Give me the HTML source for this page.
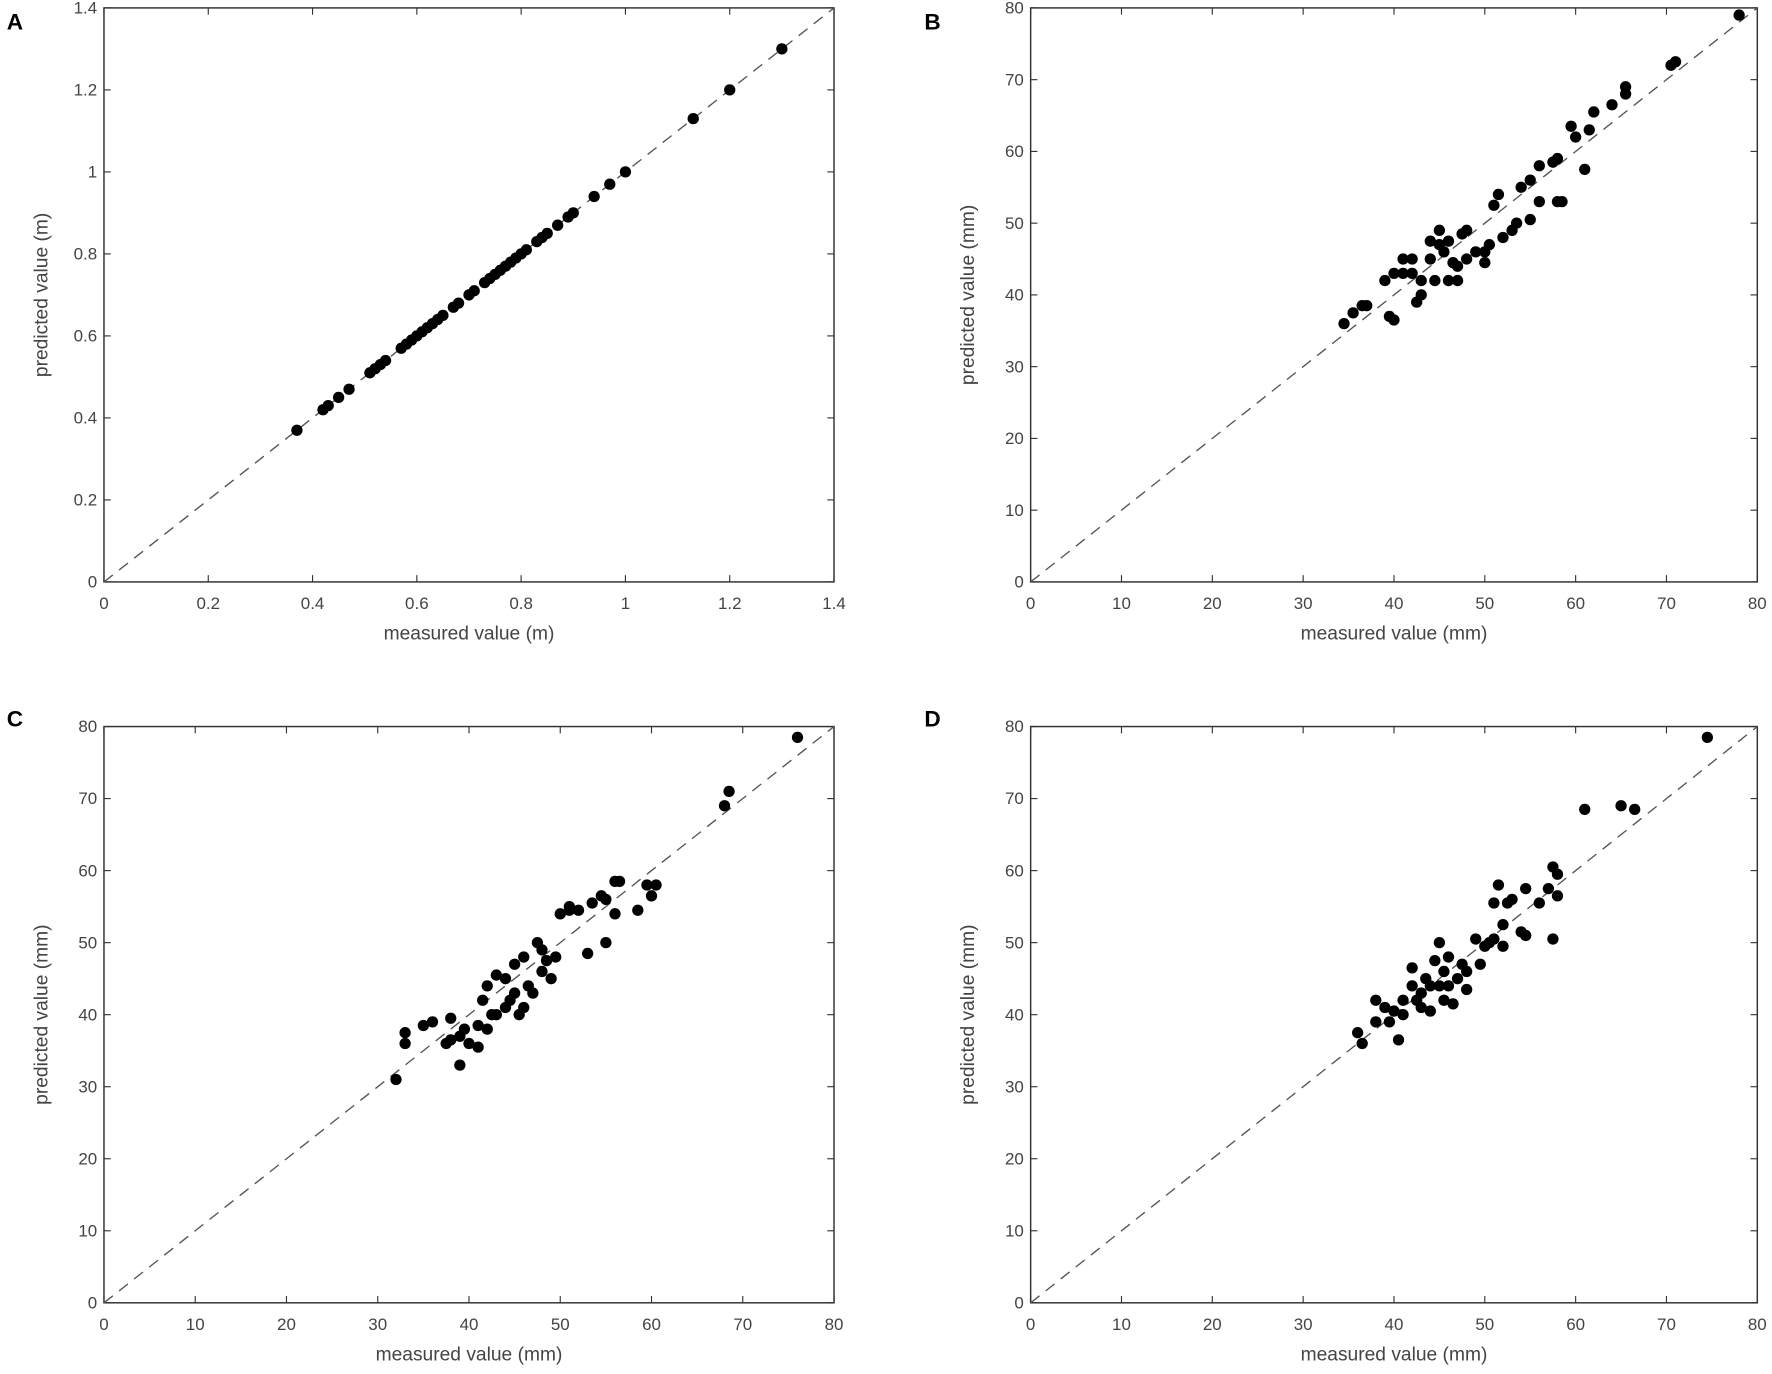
<!DOCTYPE html>
<html><head><meta charset="utf-8"><style>html,body{margin:0;padding:0;background:#fff}svg{display:block}</style></head>
<body>
<svg id="s" width="1772" height="1374" viewBox="0 0 1568 1216" preserveAspectRatio="none" xmlns="http://www.w3.org/2000/svg" font-family="Liberation Sans, sans-serif"></svg>
<script>
const s=document.getElementById('s');let h='';
function panel(L,x0,x1,yb,yt,max,step,dec,unit,letter,lx,ly,pts){
  const X=v=>x0+(x1-x0)*v/max, Y=v=>yb-(yb-yt)*v/max;
  h+=`<text x="${lx}" y="${ly}" font-size="20" font-weight="bold">${letter}</text>`;
  h+=`<rect x="${x0}" y="${yt}" width="${x1-x0}" height="${yb-yt}" fill="none" stroke="#333" stroke-width="1.3"/>`;
  const n=Math.round(max/step);
  for(let i=0;i<=n;i++){const v=i*step;const lab=dec?(+v.toFixed(1)).toString():v;
    const px=X(v),py=Y(v);
    h+=`<line x1="${px}" y1="${yb}" x2="${px}" y2="${yb-6}" stroke="#333"/><line x1="${px}" y1="${yt}" x2="${px}" y2="${yt+6}" stroke="#333"/>`;
    h+=`<line x1="${x0}" y1="${py}" x2="${x0+6}" y2="${py}" stroke="#333"/><line x1="${x1}" y1="${py}" x2="${x1-6}" y2="${py}" stroke="#333"/>`;
    h+=`<text x="${px}" y="${yb+24}" font-size="15" fill="#444" text-anchor="middle">${lab}</text>`;
    h+=`<text x="${x0-6}" y="${py+5}" font-size="15" fill="#444" text-anchor="end">${lab}</text>`;}
  h+=`<line x1="${x0}" y1="${yb}" x2="${x1}" y2="${yt}" stroke="#555" stroke-width="1.2" stroke-dasharray="10,7"/>`;
  h+=`<text x="${(x0+x1)/2}" y="${yb+51}" font-size="17" fill="#444" text-anchor="middle">measured value (${unit})</text>`;
  const cy=(yb+yt)/2;
  h+=`<text transform="translate(${x0-50},${cy}) rotate(-90)" font-size="17" fill="#444" text-anchor="middle">predicted value (${unit})</text>`;
  for(const p of pts)h+=`<circle cx="${X(p[0])}" cy="${Y(p[1])}" r="5" fill="#000"/>`;
}
const A=[0.37,0.42,0.43,0.45,0.47,0.51,0.52,0.53,0.54,0.57,0.58,0.59,0.6,0.61,0.62,0.63,0.64,0.65,0.67,0.68,0.7,0.71,0.73,0.74,0.75,0.76,0.77,0.78,0.79,0.8,0.81,0.83,0.84,0.85,0.87,0.89,0.9,0.94,0.97,1.0,1.13,1.2,1.3].map(v=>[v,v]);
const B=[[34.5,36],[35.5,37.5],[36.5,38.5],[37,38.5],[39,42],[39.5,37],[40,36.5],[40,43],[41,45],[41,43],[42,45],[42,43],[42.5,39],[43,40],[43,42],[44,47.5],[44,45],[44.5,42],[45,49],[45,47],[45.5,46],[46,47.5],[46,42],[46.5,44.5],[47,44],[47,42],[47.5,48.5],[48,49],[48,45],[49,46],[50,44.5],[50,46],[50.5,47],[51,52.5],[51.5,54],[52,48],[53,49],[53.5,50],[54,55],[55,56],[55,50.5],[56,58],[56,53],[57.5,58.5],[58,59],[58,53],[58.5,53],[59.5,63.5],[60,62],[61,57.5],[61.5,63],[62,65.5],[64,66.5],[65.5,69],[65.5,68],[70.5,72],[71,72.5],[78,79]];
const C=[[32,31],[33,36],[33,37.5],[35,38.5],[36,39],[37.5,36],[38,39.5],[38,36.5],[39,33],[39,37],[39.5,38],[40,36],[41,35.5],[41,38.5],[41.5,42],[42,44],[42,38],[42.5,40],[43,45.5],[43,40],[44,45],[44,41],[44.5,42],[45,47],[45,43],[45.5,40],[46,48],[46,41],[46.5,44],[47,43],[47.5,50],[48,49],[48,46],[48.5,47.5],[49,45],[49.5,48],[50,54],[51,55],[51,54.5],[52,54.5],[53,48.5],[53.5,55.5],[54.5,56.5],[55,50],[55,56],[56,58.5],[56,54],[56.5,58.5],[58.5,54.5],[59.5,58],[60,56.5],[60.5,58],[68,69],[68.5,71],[76,78.5]];
const D=[[36,37.5],[36.5,36],[38,42],[38,39],[39,41],[39.5,39],[40,40.5],[40.5,36.5],[41,42],[41,40],[42,44],[42,46.5],[42.5,42],[43,43],[43,41],[43.5,45],[44,40.5],[44,44],[44.5,47.5],[45,50],[45,44],[45.5,42],[45.5,46],[46,48],[46,44],[46.5,41.5],[47,45],[47.5,47],[48,46],[48,43.5],[49,50.5],[49.5,47],[50,49.5],[50.5,50],[51,55.5],[51,50.5],[51.5,58],[52,52.5],[52,49.5],[52.5,55.5],[53,56],[54,51.5],[54.5,51],[54.5,57.5],[56,55.5],[57,57.5],[57.5,50.5],[57.5,60.5],[58,59.5],[58,56.5],[61,68.5],[65,69],[66.5,68.5],[74.5,78.5]];
panel(0,92,738,515,7,1.4,0.2,true,'m','A',6,26,A);
panel(0,912,1555,515,7,80,10,false,'mm','B',818,26,B);
panel(0,92,738,1153,643,80,10,false,'mm','C',6,643,C);
panel(0,912,1555,1153,643,80,10,false,'mm','D',818,643,D);
s.innerHTML=h;
</script>
</body></html>
